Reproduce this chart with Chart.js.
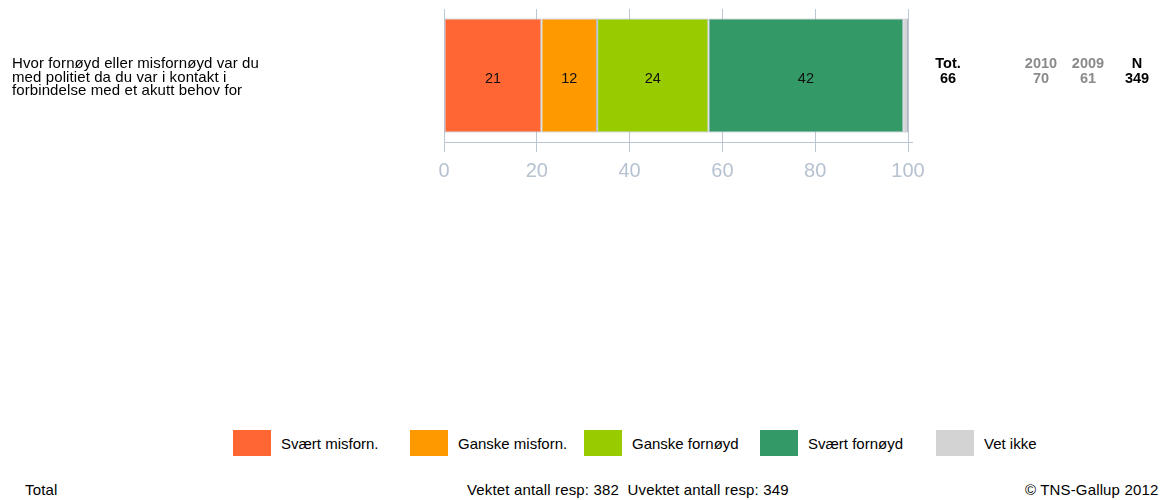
<!DOCTYPE html>
<html lang="no">
<head>
<meta charset="utf-8">
<title>Fornøydhet med politiet</title>
<script src="https://cdn.jsdelivr.net/npm/chart.js@4/dist/chart.umd.min.js"></script>
<style>
  html, body { margin: 0; padding: 0; background: #fff; }
  body { width: 1161px; height: 500px; position: relative; overflow: hidden;
         font-family: "Liberation Sans", Arial, sans-serif; color: #000; }
  #chart { position: absolute; left: 0; top: 0; }
  .question { position: absolute; left: 12px; top: 56px; font-size: 15px; line-height: 13.7px;
              letter-spacing: 0.1px; white-space: nowrap; }
  .stat { position: absolute; top: 56px; font-size: 14.5px; font-weight: bold; line-height: 14.5px;
          text-align: center; width: 50px; }
  .stat.prev { color: #8a8a8a; }
  .legend { position: absolute; top: 430px; height: 26px; display: flex; align-items: center;
            font-size: 15px; white-space: nowrap; }
  .legend .box { width: 38px; height: 26px; margin-right: 10px; }
  .foot { position: absolute; top: 482px; font-size: 15px; line-height: 16px; letter-spacing: 0.15px;
          white-space: nowrap; }
</style>
</head>
<body>
<canvas id="chart" width="1161" height="200"></canvas>
<div id="question" class="question"></div>
<div id="stats"></div>
<div id="legend"></div>
<div class="foot" style="left:25px">Total</div>
<div class="foot" style="left:467px">Vektet antall resp: 382&nbsp; Uvektet antall resp: 349</div>
<div class="foot" style="left:1025px">© TNS-Gallup 2012</div>
<script>
// Question text, one entry per printed line
const questionLines = [
  'Hvor fornøyd eller misfornøyd var du',
  'med politiet da du var i kontakt i',
  'forbindelse med et akutt behov for'
];
const categories = [questionLines.join(' ')];

// Answer groups (percent)
const seriesNames  = ['Svært misforn.', 'Ganske misforn.', 'Ganske fornøyd', 'Svært fornøyd', 'Vet ikke'];
const seriesValues = [[21], [12], [24], [42], [1]];
const seriesColors = ['#FF6633', '#FF9900', '#99CC00', '#339966', '#D3D3D3'];

// Axis ticks
const xTicks = [0, 20, 40, 60, 80, 100];

// Summary columns to the right of the bar
const statHeads  = ['Tot.', '2010', '2009', 'N'];
const statValues = ['66', '70', '61', '349'];
const statPrev   = [false, true, true, false];
const statCenters = [948, 1041, 1088, 1137];

// Legend positions
const legendLefts = [233, 410, 584, 760, 936];

document.getElementById('question').innerHTML = questionLines.join('<br>');

const statsEl = document.getElementById('stats');
statHeads.forEach((h, i) => {
  const d = document.createElement('div');
  d.className = 'stat' + (statPrev[i] ? ' prev' : '');
  d.style.left = (statCenters[i] - 25) + 'px';
  d.innerHTML = h + '<br>' + statValues[i];
  statsEl.appendChild(d);
});

const legendEl = document.getElementById('legend');
seriesNames.forEach((n, i) => {
  const d = document.createElement('div');
  d.className = 'legend';
  d.style.left = legendLefts[i] + 'px';
  d.innerHTML = '<div class="box" style="background:' + seriesColors[i] + '"></div><span>' + n + '</span>';
  legendEl.appendChild(d);
});

const gridColor = '#bcc5d2';

// Value labels centred in each segment
const segmentLabels = {
  id: 'segmentLabels',
  afterDatasetsDraw(chart) {
    const ctx = chart.ctx;
    ctx.save();
    ctx.font = '14.5px "Liberation Sans", Arial, sans-serif';
    ctx.fillStyle = '#111';
    ctx.textAlign = 'center';
    ctx.textBaseline = 'middle';
    chart.data.datasets.forEach((ds, di) => {
      const meta = chart.getDatasetMeta(di);
      meta.data.forEach((bar, i) => {
        const v = ds.data[i];
        if (v < 5) return;
        ctx.fillText(String(v), (bar.x + bar.base) / 2, bar.y + 3);
      });
    });
    ctx.restore();
  }
};

// Axis line runs a few pixels past the last tick
const axisTail = {
  id: 'axisTail',
  afterDraw(chart) {
    const a = chart.chartArea, ctx = chart.ctx;
    ctx.save();
    ctx.strokeStyle = gridColor;
    ctx.lineWidth = 1;
    ctx.beginPath();
    ctx.moveTo(a.right, Math.round(a.bottom) + 0.5);
    ctx.lineTo(a.right + 5, Math.round(a.bottom) + 0.5);
    ctx.stroke();
    ctx.restore();
  }
};

new Chart(document.getElementById('chart'), {
  type: 'bar',
  data: {
    labels: categories,
    datasets: seriesNames.map((n, i) => ({
      label: n,
      data: seriesValues[i],
      backgroundColor: seriesColors[i],
      borderColor: '#b0b9c8',
      borderWidth: 1,
      borderSkipped: false,
      barPercentage: 1,
      categoryPercentage: 0.857
    }))
  },
  options: {
    indexAxis: 'y',
    responsive: false,
    devicePixelRatio: 1,
    animation: false,
    layout: { padding: { left: 444, right: 253, top: 9, bottom: 0 } },
    plugins: { legend: { display: false }, tooltip: { enabled: false } },
    scales: {
      x: {
        stacked: true,
        min: 0, max: 100,
        afterBuildTicks(scale) { scale.ticks = xTicks.map(v => ({ value: v })); },
        afterFit(scale) { scale.height = 58; },
        grid: { color: gridColor, lineWidth: 1, tickLength: 10, drawTicks: true },
        border: { color: gridColor },
        ticks: {
          color: '#b7c2d1',
          padding: 7,
          font: { family: '"Liberation Sans", Arial, sans-serif', size: 20 }
        }
      },
      y: { stacked: true, display: false }
    }
  },
  plugins: [segmentLabels, axisTail]
});
</script>
</body>
</html>
